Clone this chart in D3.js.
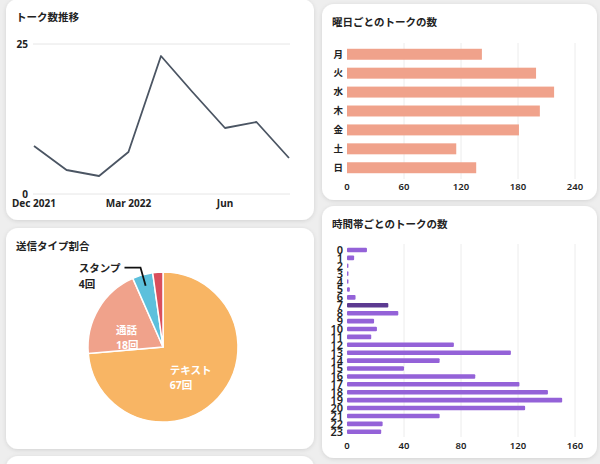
<!DOCTYPE html>
<html>
<head>
<meta charset="utf-8">
<script src="https://cdn.jsdelivr.net/npm/d3@7"></script>
<style>
  body { margin: 0; background: #eeeeee; }
  text { font-family: "Noto Sans", "Noto Sans CJK JP", sans-serif; fill: #222; }
</style>
</head>
<body>
<script>
  // monthly talk counts
  const months = ["2021-12", "2022-01", "2022-02", "2022-03", "2022-04", "2022-05", "2022-06", "2022-07", "2022-08"];
  const monthTalks = [8, 4, 3, 7, 23, 17, 11, 12, 6];
  const monthTicks = ["2021-12", "2022-03", "2022-06"];
  const monthTickLabels = ["Dec 2021", "Mar 2022", "Jun"];

  // send type share
  const sendTypes = ["テキスト", "通話", "スタンプ", "その他"];
  const sendCounts = [67, 18, 4, 2];

  // by weekday
  const weekdays = ["月", "火", "水", "木", "金", "土", "日"];
  const weekdayTalks = [142, 199, 218, 203, 181, 115, 136];
  const weekdayTicks = [0, 60, 120, 180, 240];

  // by hour
  const hours = d3.range(24).map(String);
  const hourTalks = [14, 5, 1, 1, 1, 2, 6, 29, 36, 19, 21, 17, 75, 115, 65, 40, 90, 121, 141, 151, 125, 65, 25, 24];
  const hourTicks = [0, 40, 80, 120, 160];
  const activeHour = "7";

  const parseMonth = d3.timeParse("%Y-%m");

  const svg = d3.select("body").append("svg")
    .attr("width", 600)
    .attr("height", 464);

  const defs = svg.append("defs");
  const shadow = defs.append("filter").attr("id", "shadow")
    .attr("x", "-10%").attr("y", "-10%").attr("width", "120%").attr("height", "120%");
  shadow.append("feDropShadow")
    .attr("dx", 0).attr("dy", 1).attr("stdDeviation", 2)
    .attr("flood-color", "#000").attr("flood-opacity", 0.12);

  function card(x, y, w, h, title) {
    svg.append("rect")
      .attr("x", x).attr("y", y).attr("width", w).attr("height", h)
      .attr("rx", 12).attr("fill", "#fff")
      .attr("filter", "url(#shadow)");
    if (title) {
      svg.append("text")
        .attr("x", x + 10).attr("y", y + 22)
        .attr("font-size", 10.5).attr("font-weight", 700)
        .text(title);
    }
  }

  card(6, -1, 308, 221, "トーク数推移");
  card(6, 228, 308, 221, "送信タイプ割合");
  card(6, 456, 308, 40, null);
  card(322, 4, 275, 196, "曜日ごとのトークの数");
  card(322, 206, 275, 252, "時間帯ごとのトークの数");

  // ---- line chart ----
  const x = d3.scaleTime()
    .domain(d3.extent(months, parseMonth))
    .range([34, 289]);
  const y = d3.scaleLinear().domain([0, 25]).range([194, 44]);

  const g1 = svg.append("g");
  g1.selectAll("line.grid")
    .data(y.domain())
    .enter().append("line")
    .attr("x1", 33).attr("x2", 290)
    .attr("y1", d => y(d)).attr("y2", d => y(d))
    .attr("stroke", "#e6e6e6");
  g1.selectAll("text.ytick")
    .data(y.domain())
    .enter().append("text")
    .attr("x", 28).attr("y", d => y(d))
    .attr("dy", "0.35em")
    .attr("text-anchor", "end")
    .attr("font-size", 10).attr("font-weight", 700)
    .text(d => d);
  g1.selectAll("text.xtick")
    .data(monthTicks)
    .enter().append("text")
    .attr("x", d => x(parseMonth(d)))
    .attr("y", 207)
    .attr("text-anchor", "middle")
    .attr("font-size", 10).attr("font-weight", 700)
    .text((d, i) => monthTickLabels[i]);

  const line = d3.line()
    .x((d, i) => x(parseMonth(months[i])))
    .y(d => y(d));
  g1.append("path")
    .datum(monthTalks)
    .attr("d", line)
    .attr("fill", "none")
    .attr("stroke", "#4b5563")
    .attr("stroke-width", 1.8)
    .attr("stroke-linejoin", "round");

  // ---- pie ----
  const pieColors = ["#f8b564", "#f0a28b", "#5dc0dc", "#d94f5c"];
  const cx = 163, cy = 347, r = 75;
  const total = d3.sum(sendCounts);
  const pie = d3.pie().sort(null).value(d => d)(sendCounts);
  const arc = d3.arc().innerRadius(0).outerRadius(r);
  const gp = svg.append("g").attr("transform", `translate(${cx},${cy})`);

  gp.selectAll("path")
    .data(pie)
    .enter().append("path")
    .attr("d", arc)
    .attr("fill", (d, i) => pieColors[i])
    .attr("stroke", "#fff")
    .attr("stroke-width", 1.5);

  const labelArc = d3.arc().innerRadius(r * 0.45).outerRadius(r * 0.45);
  pie.forEach((d, i) => {
    const share = d.value / total;
    const mid = (d.startAngle + d.endAngle) / 2;
    if (share > 0.1) {
      const [lx, ly] = labelArc.centroid({ startAngle: mid, endAngle: mid });
      const t = gp.append("text")
        .attr("font-size", 10.5).attr("font-weight", 700)
        .style("fill", "#fff");
      t.append("tspan").attr("x", lx - 18).attr("y", ly + 4).text(sendTypes[i]);
      t.append("tspan").attr("x", lx - 18).attr("y", ly + 19).text(d.value + "回");
    } else if (share > 0.03) {
      const sx = Math.sin(mid), sy = -Math.cos(mid);
      const p1 = [sx * r * 0.85, sy * r * 0.85];
      const p2 = [sx * r * 1.1, sy * r * 1.1];
      const p3 = [p2[0] - 16, p2[1]];
      gp.append("polyline")
        .attr("points", [p1, p2, p3].map(p => p.join(",")).join(" "))
        .attr("fill", "none")
        .attr("stroke", "#111")
        .attr("stroke-width", 1.8);
      const t1 = gp.append("text")
        .attr("x", p3[0] - 4).attr("y", p3[1] + 4)
        .attr("text-anchor", "end")
        .attr("font-size", 10.5).attr("font-weight", 700)
        .text(sendTypes[i]);
      const bx = t1.node().getBBox().x;
      gp.append("text")
        .attr("x", bx).attr("y", p3[1] + 20)
        .attr("font-size", 10.5).attr("font-weight", 700)
        .text(d.value + "回");
    }
  });

  // ---- weekday bars ----
  const xw = d3.scaleLinear().domain([0, 240]).range([347, 575]);
  const yw = d3.scaleBand().domain(weekdays).range([44.8, 177.2])
    .paddingInner(0.42).paddingOuter(0.21);
  const gw = svg.append("g");
  gw.selectAll("line")
    .data(weekdayTicks.slice(1))
    .enter().append("line")
    .attr("x1", d => xw(d)).attr("x2", d => xw(d))
    .attr("y1", 43).attr("y2", 179)
    .attr("stroke", "#ececec");
  gw.selectAll("rect")
    .data(weekdayTalks)
    .enter().append("rect")
    .attr("x", xw(0))
    .attr("y", (d, i) => yw(weekdays[i]))
    .attr("width", d => xw(d) - xw(0))
    .attr("height", yw.bandwidth())
    .attr("fill", "#f0a28b");
  gw.selectAll("text.day")
    .data(weekdays)
    .enter().append("text")
    .attr("x", 343)
    .attr("y", d => yw(d) + yw.bandwidth() / 2)
    .attr("dy", "0.35em")
    .attr("text-anchor", "end")
    .attr("font-size", 9.5).attr("font-weight", 700)
    .text(d => d);
  gw.selectAll("text.tick")
    .data(weekdayTicks)
    .enter().append("text")
    .attr("x", d => xw(d))
    .attr("y", 190)
    .attr("text-anchor", "middle")
    .attr("font-size", 9.5).attr("font-weight", 600)
    .text(d => d);

  // ---- hour bars ----
  const xh = d3.scaleLinear().domain([0, 160]).range([347, 575]);
  const yh = d3.scaleBand().domain(hours).range([246, 435.7])
    .paddingInner(0.42).paddingOuter(0.21);
  const gh = svg.append("g");
  gh.selectAll("line")
    .data(hourTicks.slice(1))
    .enter().append("line")
    .attr("x1", d => xh(d)).attr("x2", d => xh(d))
    .attr("y1", 244).attr("y2", 437)
    .attr("stroke", "#ececec");
  gh.selectAll("rect")
    .data(hourTalks)
    .enter().append("rect")
    .attr("x", xh(0))
    .attr("y", (d, i) => yh(hours[i]))
    .attr("width", d => Math.max(1, xh(d) - xh(0)))
    .attr("height", yh.bandwidth())
    .attr("rx", 1)
    .attr("fill", (d, i) => hours[i] === activeHour ? "#5c3a91" : "#9462d8");
  gh.selectAll("text.hour")
    .data(hours)
    .enter().append("text")
    .attr("x", 343)
    .attr("y", d => yh(d) + yh.bandwidth() / 2)
    .attr("dy", "0.36em")
    .attr("text-anchor", "end")
    .attr("font-size", 11).attr("font-weight", 600)
    .text(d => d);
  gh.selectAll("text.tick")
    .data(hourTicks)
    .enter().append("text")
    .attr("x", d => xh(d))
    .attr("y", 449)
    .attr("text-anchor", "middle")
    .attr("font-size", 9.5).attr("font-weight", 600)
    .text(d => d);
</script>
</body>
</html>
